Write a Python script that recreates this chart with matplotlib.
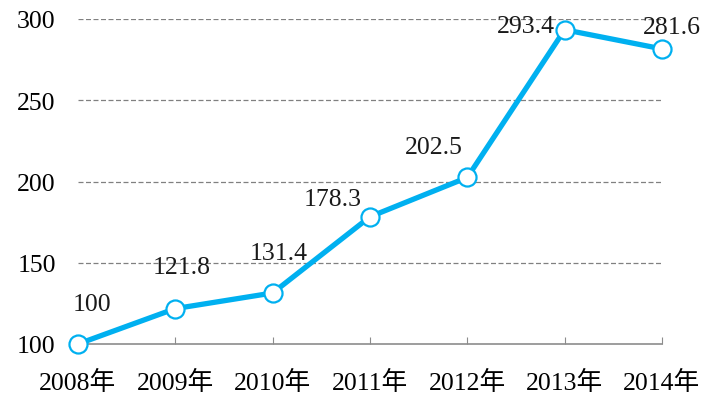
import matplotlib
matplotlib.use('Agg')
import matplotlib.pyplot as plt

years = ['2008年', '2009年', '2010年', '2011年', '2012年', '2013年', '2014年']
values = [100, 121.8, 131.4, 178.3, 202.5, 293.4, 281.6]
y_ticks = [100, 150, 200, 250, 300]

# label offsets in pixels (relative to each point)
label_offsets = [(14, 40), (6, 42), (6, 40), (-37, 18), (-34, 30), (-39, 4), (10, 22)]

plt.rcParams['font.family'] = ['Liberation Serif', 'Noto Sans CJK SC', 'DejaVu Sans']
plt.rcParams['font.size'] = 18.5

fig = plt.figure(figsize=(7.02, 4.02), dpi=100)
ax = fig.add_axes([78 / 702, 57 / 402, (662 - 78) / 702, (345 - 20) / 402])

x = list(range(len(years)))
ax.plot(x, values, color='#00B0F0', lw=3.8, marker='o', ms=13,
        mfc='white', mec='#00B0F0', mew=1.6, clip_on=False, zorder=3)

for i, v in enumerate(values):
    dx, dy = label_offsets[i]
    ax.annotate(f'{v:g}', (i, v), xytext=(dx, dy), textcoords='offset pixels',
                ha='center', va='center', color='#1a1a1a', annotation_clip=False)

ax.set_xlim(0, len(years) - 1)
ax.set_ylim(100, 300)
ax.set_yticks(y_ticks)
ax.set_xticks(x)
ax.set_xticklabels(years)

for t in y_ticks[1:]:
    ax.axhline(t, color='#808080', lw=0.9, ls=(0, (4, 2)), zorder=1)

for s in ['top', 'right', 'left']:
    ax.spines[s].set_visible(False)
ax.spines['bottom'].set_color('#8c8c8c')
ax.spines['bottom'].set_linewidth(1.2)

ax.tick_params(axis='y', length=0, pad=16)
ax.tick_params(axis='x', direction='in', length=5, color='#8c8c8c', pad=19)

fig.savefig('out.png', dpi=100)
